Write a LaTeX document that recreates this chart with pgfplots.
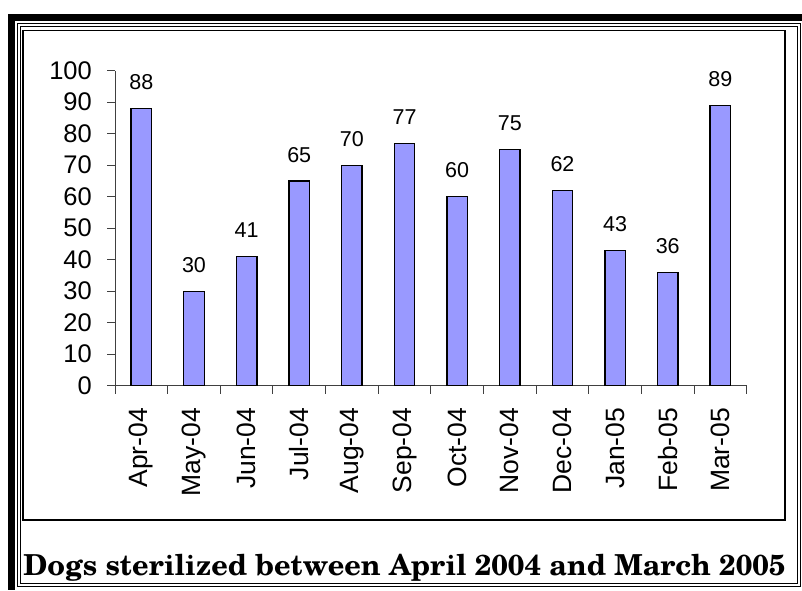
\documentclass[border=0pt]{standalone}
\usepackage{pgfplots}
\pgfplotsset{compat=1.18}
\usepackage{fontspec}
\setmainfont{Liberation Sans}
\newfontfamily\titlefont{texgyreschola-bold.otf}
\definecolor{barblue}{RGB}{153,153,255}
\begin{document}
\begin{tikzpicture}[x=1pt,y=1pt]
\useasboundingbox (0,0) rectangle (802,590);
\fill[white] (0,0) rectangle (802,590);
\fill[black] (8,576) rectangle (802,569);
\fill[black] (8,576) rectangle (15,0);
\draw[line width=1pt] (17.5,566.5) rectangle (800,4);
\draw[line width=1pt] (20.5,563) rectangle (797,6.8);
\draw[line width=1.4pt] (23,559.5) rectangle (785,70);
\begin{axis}[
 scale only axis, width=631.7pt, height=315pt,
 at={(115pt,204.3pt)}, anchor=south west,
 xmin=0.5, xmax=12.5, ymin=0, ymax=100,
 axis x line*=bottom, axis y line*=left,
 axis line style={line width=0.9pt, black!75},
 tick style={line width=0.9pt, black!75},
 tick align=outside, major tick length=8pt,
 ytick={0,10,...,100},
 xtick={0.5,1.5,...,12.5}, xticklabels={},
 extra x ticks={1,2,3,4,5,6,7,8,9,10,11,12},
 extra x tick labels={Apr-04,May-04,Jun-04,Jul-04,Aug-04,Sep-04,Oct-04,Nov-04,Dec-04,Jan-05,Feb-05,Mar-05},
 extra x tick style={major tick length=0pt},
 xticklabel style={yshift=-22pt, rotate=90, anchor=east, inner sep=0pt, font=\fontsize{26.5}{31}\selectfont},
 yticklabel style={inner sep=0pt, xshift=-15pt, font=\fontsize{25.5}{30}\selectfont},
 /pgf/number format/assume math mode=true,
 nodes near coords style={font=\fontsize{21.5}{25}\selectfont, anchor=south, inner sep=0pt, yshift=18pt, black},
 clip=false,
]
\addplot[ybar, bar width=20.5pt, fill=barblue, draw=black, line width=1.3pt, nodes near coords] coordinates {(1,88) (2,30) (3,41) (4,65) (5,70) (6,77) (7,60) (8,75) (9,62) (10,43) (11,36) (12,89)};
\end{axis}
\node[anchor=base, inner sep=0pt] at (404.5,15) {\titlefont\fontsize{28.9}{34}\selectfont Dogs sterilized between April 2004 and March 2005};
\end{tikzpicture}
\end{document}
